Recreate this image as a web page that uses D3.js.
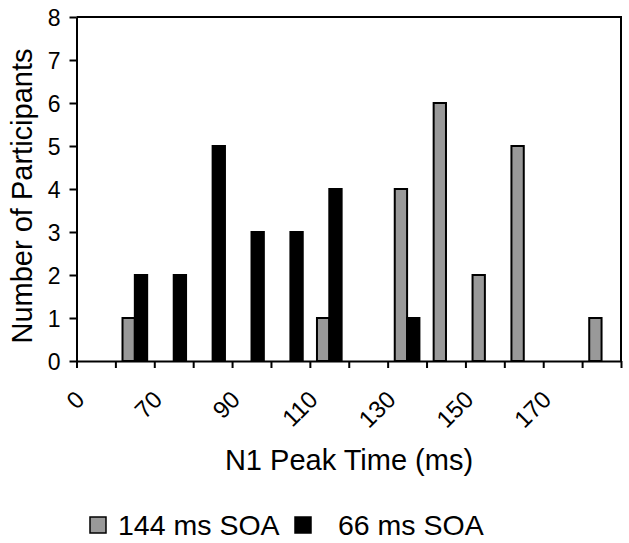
<!DOCTYPE html>
<html>
<head>
<meta charset="utf-8">
<script src="https://cdn.jsdelivr.net/npm/d3@7"></script>
<style>
  html, body { margin: 0; padding: 0; background: #fff; }
  svg { display: block; font-family: "Liberation Sans", Arial, Helvetica, sans-serif; }
</style>
</head>
<body>
<svg id="chart" width="629" height="543"></svg>
<script>
// ---- data ----
const categories = ["0","60","70","80","90","100","110","120","130","140","150","160","170","180"];
const shownLabels = ["0","70","90","110","130","150","170"];
const seriesNames = ["144 ms SOA", "66 ms SOA"];
const soa144 = [0,1,0,0,0,0,1,0,4,6,2,5,0,1];
const soa66  = [0,2,2,5,3,3,4,0,1,0,0,0,0,0];
const yTicks = [0,1,2,3,4,5,6,7,8];

const colors = {"144 ms SOA": "#999999", "66 ms SOA": "#000000"};

const svg = d3.select("#chart");
svg.append("rect").attr("width", 629).attr("height", 543).attr("fill", "#fff");

const pLeft = 76.5, pRight = 621, pTop = 17, pBottom = 361;

const x = d3.scaleBand().domain(categories).range([pLeft, pRight]).paddingInner(0).paddingOuter(0);
const bw = x.bandwidth();
const x1 = d3.scaleBand().domain(seriesNames).range([bw * 0.183, bw * 0.817]);
const y = d3.scaleLinear().domain([0, 8]).range([pBottom, pTop]);
const xb = d3.scaleLinear().domain([0, categories.length]).range([pLeft, pRight]);

// plot frame (top and right)
svg.append("path")
  .attr("d", `M${pLeft},${pTop}H${pRight}V${pBottom}`)
  .attr("fill", "none").attr("stroke", "#000").attr("stroke-width", 2);

// bars
const rows = [];
categories.forEach((c, i) => {
  rows.push({cat: c, s: seriesNames[0], v: soa144[i]});
  rows.push({cat: c, s: seriesNames[1], v: soa66[i]});
});
svg.append("g").selectAll("rect")
  .data(rows.filter(d => d.v > 0))
  .join("rect")
  .attr("x", d => x(d.cat) + x1(d.s))
  .attr("y", d => y(d.v))
  .attr("width", x1.bandwidth())
  .attr("height", d => y(0) - y(d.v))
  .attr("fill", d => colors[d.s])
  .attr("stroke", "#000")
  .attr("stroke-width", 2);

// y axis
const yAxis = svg.append("g")
  .attr("transform", `translate(${pLeft},0)`)
  .call(d3.axisLeft(y).tickValues(yTicks).tickFormat(d3.format("d")).tickSize(7).tickPadding(9).tickSizeOuter(0));
yAxis.select(".domain").attr("stroke-width", 2);
yAxis.selectAll(".tick line").attr("stroke-width", 2);
yAxis.selectAll(".tick text").attr("font-size", 23).attr("font-family", "Liberation Sans, Arial, sans-serif").attr("fill", "#000").attr("dy", "0.36em");

// x axis (ticks at category boundaries)
const xAxis = svg.append("g")
  .attr("transform", `translate(0,${pBottom})`)
  .call(d3.axisBottom(xb).tickValues(d3.range(categories.length + 1)).tickFormat("").tickSize(7).tickSizeOuter(0));
xAxis.select(".domain").attr("stroke-width", 2);
xAxis.selectAll(".tick line").attr("stroke-width", 2);

// rotated category labels (every other category)
svg.append("g").selectAll("text")
  .data(categories.filter((c, i) => i % 2 === 0).map((c, i) => ({cat: c, label: shownLabels[i]})))
  .join("text")
  .attr("transform", d => `translate(${x(d.cat) + bw / 2 - 10},401) rotate(-45)`)
  .attr("text-anchor", "end")
  .attr("font-size", 24)
  .attr("fill", "#000")
  .text(d => d.label);

// axis titles
svg.append("text")
  .attr("x", 349).attr("y", 470)
  .attr("text-anchor", "middle")
  .attr("font-size", 29)
  .attr("fill", "#000")
  .text("N1 Peak Time (ms)");

svg.append("text")
  .attr("transform", "translate(32,196) rotate(-90)")
  .attr("text-anchor", "middle")
  .attr("font-size", 29)
  .attr("fill", "#000")
  .text("Number of Participants");

// legend
const legend = svg.append("g");
const legendItems = [
  {name: seriesNames[0], rx: 90, tx: 118},
  {name: seriesNames[1], rx: 295, tx: 338}
];
legend.selectAll("rect")
  .data(legendItems)
  .join("rect")
  .attr("x", d => d.rx).attr("y", 517)
  .attr("width", 16).attr("height", 16)
  .attr("fill", d => colors[d.name])
  .attr("stroke", "#000").attr("stroke-width", 1.5);
legend.selectAll("text")
  .data(legendItems)
  .join("text")
  .attr("x", d => d.tx).attr("y", 535)
  .attr("font-size", 28.5)
  .attr("fill", "#000")
  .text(d => d.name);
</script>
</body>
</html>
